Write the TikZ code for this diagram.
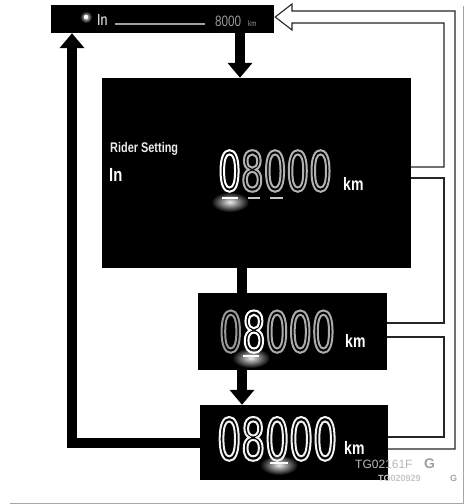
\documentclass[tikz,border=0pt]{standalone}
\usepackage{fontspec}
\setmainfont{Liberation Sans}
\usetikzlibrary{arrows.meta}
\newfontfamily\condfont[FakeStretch=0.78]{Liberation Sans}
\newfontfamily\digfont[FakeStretch=0.65]{DejaVu Sans}
\newcommand\hollowtxt[2]{\special{pdf:literal direct #1 w 1 Tr}#2\special{pdf:literal direct 0 Tr 0.4 w}}
\tikzset{
  screen/.style={fill=black, draw=none, inner sep=0pt},
  bigarrow/.style={line width=10pt, black, -{Triangle[length=15pt,width=24pt]}},
  bigline/.style={line width=10pt, black},
  rail/.style={line width=1.1pt, black!85, line join=miter},
  txt/.style={inner sep=0pt, anchor=base west},
  glow/.style={inner color=white!85!gray, outer color=black},
  dashw/.style={white, line width=2pt},
  dashg/.style={gray!45, line width=1.2pt}
}
\begin{document}
\begin{tikzpicture}[x=1pt,y=-1pt]
\useasboundingbox (0,0) rectangle (467,504);
\fill[white] (0,0) rectangle (467,504);
% page frame
\draw[gray!70, line width=1pt] (463,6) -- (463,503) -- (10,503);
% screens
\node[screen, minimum width=223pt, minimum height=28pt] (top) at (162.5,19) {};
\node[screen, minimum width=309pt, minimum height=190pt] (big) at (256.5,173) {};
\node[screen, minimum width=189pt, minimum height=77pt] (mid) at (292.5,331.5) {};
\node[screen, minimum width=188pt, minimum height=75pt] (bot) at (294,442.5) {};
% thick arrows
\draw[bigarrow] ([xshift=77.5pt]top.south) -- ([xshift=-16.5pt]big.north);
\draw[bigline] ([xshift=-14.5pt]big.south) -- ([xshift=-50.5pt]mid.north);
\draw[bigarrow] ([xshift=-50.5pt]mid.south) -- ([xshift=-52pt]bot.north);
\draw[bigarrow] (bot.west) -| ([xshift=-90.5pt]top.south);
% hollow return connector
\coordinate (tip) at ([xshift=1pt,yshift=2pt]top.east);
\draw[rail] ([yshift=-6.5pt]bot.east) -| (455,11) -- (292,11) -- (292,4) -- (tip)
   -- (292,30) -- (292,23) -| (444,167) -- ([yshift=6pt]big.east);
\draw[rail] ([yshift=-5pt]big.east) -| (444,323) -- ([yshift=8.5pt]mid.east);
\draw[rail] ([yshift=-5.5pt]mid.east) -| (444,437) -- ([yshift=5.5pt]bot.east);
% top screen content
\shade[glow] (86,17) circle (6);
\fill[white] (86,17) circle (2.2);
\node[txt, text=white] (tIn) at (97,25) {\condfont\fontsize{16}{16}\selectfont In};
\draw[gray!75, line width=1.3pt] (115,24) -- (205,24);
\node[txt, text=gray!80] (tval) at (215,26) {\condfont\fontsize{15}{15}\selectfont 8000};
\node[txt, text=gray!80] (tkm) at (248,26) {\condfont\fontsize{8}{8}\selectfont km};
% big screen content
\node[txt, text=white!85!gray] (rs) at (110,152) {\condfont\bfseries\fontsize{14}{14}\selectfont Rider Setting};
\node[txt, text=white] (rin) at (109,181) {\condfont\bfseries\fontsize{19}{19}\selectfont In};
\shade[glow] (230,202) ellipse [x radius=19, y radius=10];
\draw[dashw] (222,198) -- (238,198);
\draw[dashg] (248,198) -- (260,198);
\draw[dashg] (270,198) -- (283,198);
\node[txt, text=white] (bkm) at (343,190) {\condfont\bfseries\fontsize{18}{18}\selectfont km};
% middle screen content
\shade[glow] (251,358) ellipse [x radius=19, y radius=10];
\draw[dashw] (243,356) -- (259,356);
\node[txt, text=white] (mkm) at (345,347) {\condfont\bfseries\fontsize{18}{18}\selectfont km};
% bottom screen content
\shade[glow] (279,465) ellipse [x radius=19, y radius=10];
\draw[dashw] (270,463) -- (288,463);
\node[txt, text=white] (lkm) at (344,454) {\condfont\bfseries\fontsize{18}{18}\selectfont km};
% figure codes
\node[txt, text=gray!55] (code1) at (355,468) {\fontsize{12}{12}\selectfont TG02161F};
\node[txt, text=gray!75] (code1g) at (424,468) {\bfseries\fontsize{14}{14}\selectfont G};
\node[txt, text=gray!45] (code2) at (378,481) {\bfseries\fontsize{9}{9}\selectfont TG020929};
\node[txt, text=gray!70] (code2g) at (450,481) {\bfseries\fontsize{9}{9}\selectfont G};
% digits (hollow)
\node[txt] (bdig) at (218,191) {\digfont\fontsize{55}{55}\selectfont\hollowtxt{2}{\textcolor{white}{0}\textcolor{gray!60}{8000}}};
\node[txt] (mdig) at (219,352) {\digfont\fontsize{56}{58}\selectfont\hollowtxt{2}{\textcolor{gray!80}{0}\textcolor{white}{8}\textcolor{gray!65}{000}}};
\node[txt] (ldig) at (217,460) {\digfont\fontsize{58}{61}\selectfont\hollowtxt{2}{\textcolor{white!90!gray}{08000}}};
\end{tikzpicture}
\end{document}
